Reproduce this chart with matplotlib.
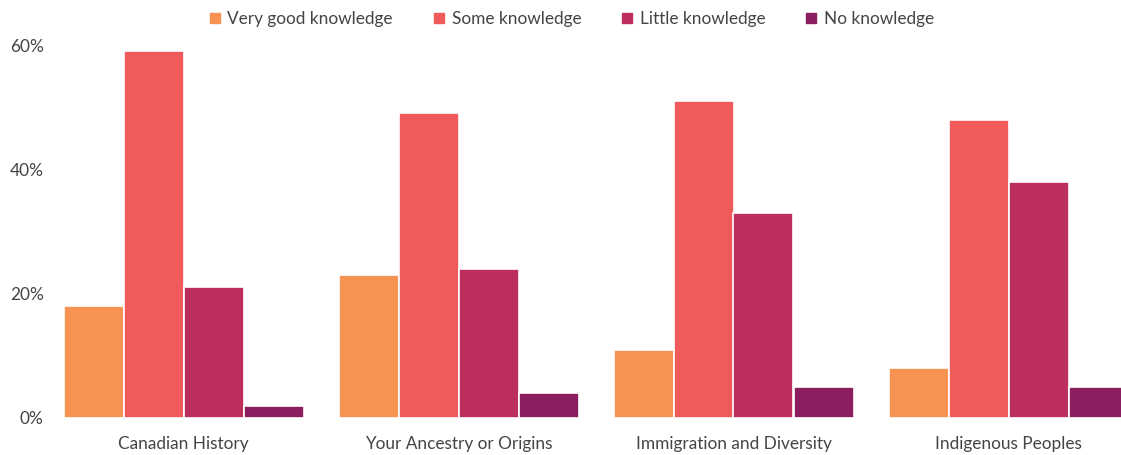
import numpy as np
import matplotlib
matplotlib.use("Agg")
import matplotlib.pyplot as plt
from matplotlib.lines import Line2D

plt.rcParams['font.family'] = ['Lato', 'DejaVu Sans']

# data (percent)
topics = ['Canadian History', 'Your Ancestry or Origins', 'Immigration and Diversity', 'Indigenous Peoples']
levels = ['Very good knowledge', 'Some knowledge', 'Little knowledge', 'No knowledge']
very_good = [18, 23, 11, 8]
some = [59, 49, 51, 48]
little = [21, 24, 33, 38]
none_ = [2, 4, 5, 5]
colors = ['#F69352', '#F05A5B', '#BC2F5C', '#8A1E5F']

series = [very_good, some, little, none_]

fig = plt.figure(figsize=(11.21, 4.55), dpi=100)
ax = fig.add_axes([63 / 1121, 1 - 418 / 455, 1 - 63 / 1121, (418 - 45) / 455])

x = np.arange(len(topics))
step = 60 / 275
for i, (vals, c) in enumerate(zip(series, colors)):
    ax.bar(x + (i - 1.5) * step, vals, width=step, color=c,
           edgecolor='white', linewidth=1.2, label=levels[i])

ax.set_xlim((63 - 183.5) / 275, (1121 - 183.5) / 275)
ax.set_ylim(0, 60)
ax.set_yticks([0, 20, 40, 60])
ax.set_yticklabels([f'{v}%' for v in [0, 20, 40, 60]])
ax.set_xticks(x)
ax.set_xticklabels(topics)
ax.tick_params(axis='both', length=0, labelsize=12.4, labelcolor='#444444')
ax.tick_params(axis='y', pad=14)
ax.tick_params(axis='x', pad=13)
for s in ax.spines.values():
    s.set_visible(False)

handles = [Line2D([0], [0], marker='s', linestyle='', markersize=6.5,
                  markerfacecolor=c, markeredgecolor=c) for c in colors]
fig.legend(handles, levels, loc='upper center', bbox_to_anchor=(0.510, 1.01),
           ncol=4, frameon=False, fontsize=12.4, handlelength=0.6,
           handletextpad=0.45, columnspacing=2.35, labelcolor='#444444')

fig.savefig('out.png', dpi=100)
